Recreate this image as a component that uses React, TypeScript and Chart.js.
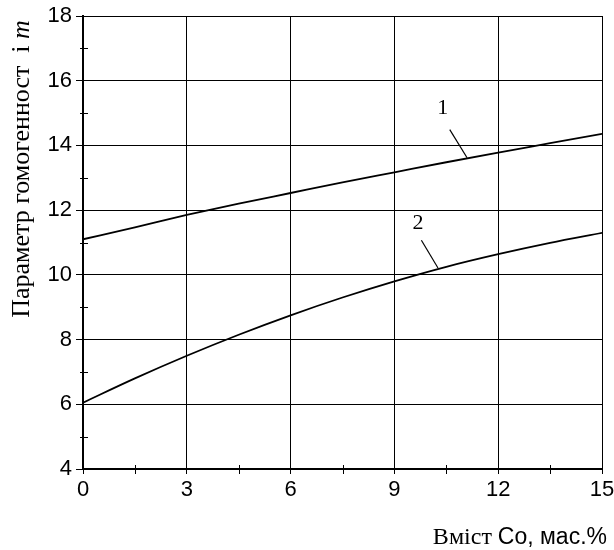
import React, { useEffect, useRef } from "react";
import { Chart, registerables } from "chart.js";
Chart.register(...registerables);

const xValues = [0, 1.5, 3, 4.5, 6, 7.5, 9, 10.5, 12, 13.5, 15];
const series1 = [11.1, 11.47, 11.85, 12.2, 12.53, 12.86, 13.17, 13.48, 13.78, 14.07, 14.36];
const series2 = [6.05, 6.8, 7.5, 8.15, 8.75, 9.3, 9.8, 10.25, 10.64, 10.99, 11.3];
const seriesLabels = ["1", "2"];
const labelPos = [[10.4, 15.15], [9.68, 11.6]];
const leaderLines = [[10.6, 14.49, 11.1, 13.62], [9.78, 11.07, 10.26, 10.21]];
const xTickStep = 3;
const yTickStep = 2;
const xMinorTicks = [1.5, 4.5, 7.5, 10.5, 13.5];
const yMinorTicks = [5, 7, 9, 11, 13, 15, 17];
const yTitle = ["Параметр гомогенност  і ", "m"];
const xTitle = ["Вміст ", "Со, мас.%"];

export default function App() {
  const ref = useRef<HTMLCanvasElement>(null);
  useEffect(() => {
    const overlay = {
      id: "overlay",
      afterDraw(chart: any) {
        const ctx = chart.ctx;
        const xs = chart.scales.x;
        const ys = chart.scales.y;
        ctx.save();
        ctx.strokeStyle = "#000";
        ctx.lineWidth = 1;
        xMinorTicks.forEach((v) => {
          const px = Math.round(xs.getPixelForValue(v)) + 0.5;
          const py = ys.bottom;
          ctx.beginPath();
          ctx.moveTo(px, py - 4);
          ctx.lineTo(px, py + 5);
          ctx.stroke();
        });
        yMinorTicks.forEach((v) => {
          const py = Math.round(ys.getPixelForValue(v)) + 0.5;
          const px = xs.left;
          ctx.beginPath();
          ctx.moveTo(px - 3, py);
          ctx.lineTo(px + 5, py);
          ctx.stroke();
        });
        ctx.lineWidth = 1.2;
        leaderLines.forEach((l) => {
          ctx.beginPath();
          ctx.moveTo(xs.getPixelForValue(l[0]), ys.getPixelForValue(l[1]));
          ctx.lineTo(xs.getPixelForValue(l[2]), ys.getPixelForValue(l[3]));
          ctx.stroke();
        });
        ctx.fillStyle = "#000";
        ctx.font = "22px 'Liberation Serif', serif";
        ctx.textAlign = "center";
        ctx.textBaseline = "middle";
        seriesLabels.forEach((s, i) => {
          ctx.fillText(s, xs.getPixelForValue(labelPos[i][0]), ys.getPixelForValue(labelPos[i][1]));
        });
        // y title
        ctx.save();
        ctx.translate(29, 169);
        ctx.rotate(-Math.PI / 2);
        ctx.textBaseline = "alphabetic";
        const f1 = "26px 'Liberation Serif', serif";
        const f2 = "italic 26px 'Liberation Serif', serif";
        ctx.font = f1;
        const w1 = ctx.measureText(yTitle[0]).width;
        ctx.font = f2;
        const w2 = ctx.measureText(yTitle[1]).width;
        const start = -(w1 + w2) / 2;
        ctx.textAlign = "left";
        ctx.font = f1;
        ctx.fillText(yTitle[0], start, 0);
        ctx.font = f2;
        ctx.fillText(yTitle[1], start + w1, 0);
        ctx.restore();
        // x title
        const fa = "24px 'Liberation Serif', serif";
        const fb = "23px 'Liberation Sans', Arial, sans-serif";
        ctx.font = fb;
        const wb = ctx.measureText(xTitle[1]).width;
        ctx.font = fa;
        const wa = ctx.measureText(xTitle[0]).width;
        const right = 607;
        ctx.textAlign = "left";
        ctx.textBaseline = "alphabetic";
        ctx.font = fa;
        ctx.fillText(xTitle[0], right - wb - wa, 544);
        ctx.font = fb;
        ctx.fillText(xTitle[1], right - wb, 544);
        ctx.restore();
      },
    };
    const tickFont = { size: 22, family: "'Liberation Sans', Arial, sans-serif" };
    const chart = new Chart(ref.current!, {
      type: "line",
      data: {
        labels: xValues,
        datasets: [
          { data: xValues.map((x, i) => ({ x, y: series1[i] })), borderColor: "#000", borderWidth: 1.8, pointRadius: 0, cubicInterpolationMode: "monotone" },
          { data: xValues.map((x, i) => ({ x, y: series2[i] })), borderColor: "#000", borderWidth: 1.8, pointRadius: 0, cubicInterpolationMode: "monotone" },
        ],
      },
      options: {
        animation: false,
        responsive: false,
        events: [],
        layout: { padding: { top: 16, right: 0, left: 0, bottom: 0 } },
        plugins: { legend: { display: false }, tooltip: { enabled: false } },
        scales: {
          x: {
            type: "linear",
            min: 0,
            max: 15,
            ticks: { stepSize: xTickStep, color: "#000", font: tickFont, padding: 3 },
            grid: { color: "#000", lineWidth: 1, tickLength: 5, drawTicks: true },
            border: { color: "#000", width: 2 },
            afterFit: (s: any) => { s.height = 81; s.paddingRight = 12; s.paddingLeft = 0; },
          },
          y: {
            type: "linear",
            min: 4,
            max: 18,
            ticks: { stepSize: yTickStep, color: "#000", font: tickFont, padding: 4 },
            grid: { color: "#000", lineWidth: 1, tickLength: 7, drawTicks: true },
            border: { color: "#000", width: 2 },
            afterFit: (s: any) => { s.width = 83; s.paddingTop = 0; s.paddingBottom = 0; },
          },
        },
      },
      plugins: [overlay],
    } as any);
    return () => chart.destroy();
  }, []);
  return (
    <div style={{ position: "fixed", left: 0, top: 0, width: 614, height: 550, background: "#fff" }}>
      <canvas ref={ref} width={614} height={550} />
    </div>
  );
}
